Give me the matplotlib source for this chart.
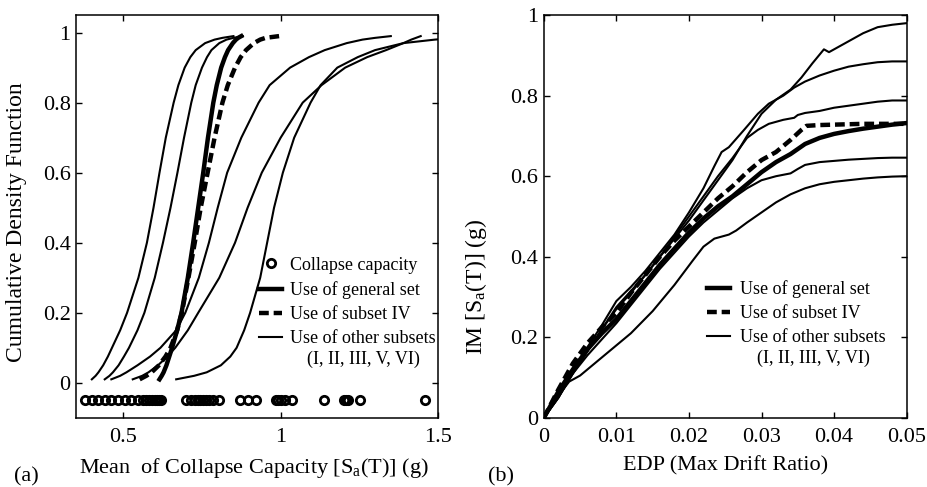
import numpy as np
import matplotlib.pyplot as plt
from matplotlib.ticker import FuncFormatter

plt.rcParams['font.family'] = 'Liberation Serif'
plt.rcParams['mathtext.fontset'] = 'custom'
plt.rcParams['mathtext.rm'] = 'Liberation Serif'
plt.rcParams['mathtext.it'] = 'Liberation Serif:italic'

# (a) collapse capacity CDFs, x values read at fixed CDF levels
cdf_levels = [0.01, 0.02, 0.03, 0.05, 0.075, 0.1, 0.15, 0.2, 0.3, 0.4, 0.5,
              0.6, 0.7, 0.8, 0.85, 0.9, 0.93, 0.95, 0.97, 0.98, 0.985, 0.99]
cdf_general = [0.615, 0.622, 0.628, 0.637, 0.646, 0.655, 0.671, 0.685, 0.705, 0.722, 0.738,
               0.754, 0.769, 0.786, 0.797, 0.811, 0.823, 0.833, 0.848, 0.858, 0.865, 0.875]
cdf_subset4 = [0.552, 0.573, 0.59, 0.613, 0.634, 0.65, 0.671, 0.686, 0.707, 0.727, 0.746,
               0.768, 0.79, 0.815, 0.832, 0.855, 0.873, 0.89, 0.915, 0.935, 0.952, 0.995]
cdf_sub_a = [0.400, 0.412, 0.421, 0.436, 0.451, 0.464, 0.49, 0.512, 0.548, 0.575, 0.596,
             0.615, 0.635, 0.66, 0.675, 0.695, 0.713, 0.73, 0.76, 0.79, 0.815, 0.85]
cdf_sub_b = [0.441, 0.456, 0.467, 0.485, 0.502, 0.518, 0.545, 0.567, 0.60, 0.626, 0.65,
             0.672, 0.693, 0.716, 0.73, 0.75, 0.766, 0.78, 0.805, 0.828, 0.85, 0.88]
cdf_sub_c = [0.462, 0.49, 0.51, 0.545, 0.585, 0.618, 0.668, 0.697, 0.74, 0.772, 0.80,
             0.83, 0.875, 0.93, 0.965, 1.03, 1.09, 1.14, 1.21, 1.26, 1.30, 1.35]
cdf_sub_d = [0.53, 0.56, 0.58, 0.61, 0.64, 0.665, 0.705, 0.738, 0.805, 0.855, 0.895,
             0.94, 1.0, 1.07, 1.13, 1.205, 1.275, 1.335, 1.39, 1.415, 1.43, 1.445]
cdf_sub_e = [0.668, 0.725, 0.765, 0.81, 0.84, 0.86, 0.884, 0.903, 0.935, 0.957, 0.979,
             1.007, 1.043, 1.095, 1.127, 1.18, 1.245, 1.30, 1.39, 1.49, 1.56, 1.62]
cdf_others = [cdf_sub_a, cdf_sub_b, cdf_sub_c, cdf_sub_d, cdf_sub_e]

collapse_caps = [0.378, 0.399, 0.42, 0.441, 0.462, 0.483, 0.504, 0.525, 0.546, 0.562,
                 0.572, 0.582, 0.592, 0.600, 0.608, 0.615, 0.62, 0.699, 0.715, 0.728,
                 0.736, 0.745, 0.752, 0.762, 0.773, 0.786, 0.805, 0.870, 0.897, 0.921,
                 0.986, 0.993, 1.0, 1.013, 1.036, 1.137, 1.200, 1.208, 1.213, 1.253, 1.458]
cap_row = -0.05

# (b) IDA curves, IM vs max drift ratio
ida_general_x = [0, .002, .004, .006, .008, .010, .012, .014, .016, .018, .020, .022, .024,
                 .026, .028, .030, .032, .034, .036, .038, .040, .042, .044, .046, .048, .050]
ida_general_y = [0, .065, .12, .17, .21, .245, .29, .335, .38, .42, .46, .495, .525,
                 .55, .58, .61, .635, .655, .68, .695, .705, .712, .718, .723, .728, .732]
ida_subset4_x = [0, .002, .004, .006, .008, .010, .012, .014, .016, .018, .020, .022, .024,
                 .026, .028, .030, .032, .034, .0355, .0362, .038, .040, .042, .044, .046, .048, .050]
ida_subset4_y = [0, .07, .135, .185, .225, .26, .31, .355, .40, .44, .475, .51, .545,
                 .575, .61, .64, .66, .69, .715, .725, .727, .728, .729, .73, .73, .73, .73]

ida_sub1_x = [0, .002, .004, .006, .008, .010, .012, .014, .016, .018, .020, .022, .024, .026,
              .028, .030, .032, .034, .0355, .037, .0386, .0393, .040, .042, .044, .046, .048, .050]
ida_sub1_y = [0, .05, .11, .165, .22, .27, .31, .355, .40, .445, .49, .54, .59, .64,
              .70, .755, .79, .815, .845, .88, .915, .908, .915, .935, .955, .97, .976, .98]
ida_sub2_x = [0, .002, .004, .006, .008, .010, .012, .014, .016, .018, .020, .022, .0235, .0245,
              .0255, .0275, .0295, .031, .033, .0345, .036, .038, .040, .042, .044, .046, .048, .050]
ida_sub2_y = [0, .05, .115, .175, .23, .29, .325, .365, .41, .455, .51, .57, .625, .66,
              .672, .713, .755, .78, .80, .82, .835, .85, .862, .872, .878, .883, .885, .885]
ida_sub3_x = [0, .002, .004, .006, .008, .010, .012, .014, .016, .018, .020, .022, .024, .026,
              .028, .0295, .031, .033, .0345, .035, .036, .038, .040, .042, .044, .046, .048, .050]
ida_sub3_y = [0, .05, .11, .165, .22, .275, .315, .355, .40, .45, .50, .55, .60, .645,
              .695, .715, .73, .74, .745, .752, .757, .762, .77, .775, .78, .785, .788, .788]
ida_sub4_x = [0, .002, .004, .006, .008, .010, .012, .014, .016, .018, .020, .022, .024, .026,
              .028, .030, .032, .034, .035, .036, .038, .040, .042, .044, .046, .048, .050]
ida_sub4_y = [0, .06, .11, .155, .195, .235, .28, .325, .37, .41, .45, .485, .515, .545,
              .57, .59, .60, .607, .618, .628, .635, .638, .641, .643, .645, .646, .646]
ida_sub5_x = [0, .002, .0035, .005, .007, .009, .012, .015, .018, .0205, .022, .0235, .0255,
              .0265, .028, .030, .032, .034, .036, .038, .040, .042, .044, .046, .048, .050]
ida_sub5_y = [0, .055, .09, .105, .135, .165, .21, .265, .33, .39, .425, .445, .455,
              .465, .485, .51, .535, .555, .57, .58, .586, .59, .594, .597, .599, .60]
ida_others = [(ida_sub1_x, ida_sub1_y), (ida_sub2_x, ida_sub2_y), (ida_sub3_x, ida_sub3_y),
              (ida_sub4_x, ida_sub4_y), (ida_sub5_x, ida_sub5_y)]

THIN = 1.5
THICK = 3.2
DASH = (2.2, 1.1)
fmt = FuncFormatter(lambda v, p: f'{v:g}')

fig = plt.figure(figsize=(9.28, 4.87), dpi=100)
ax1 = fig.add_axes([0.082, 0.142, 0.390, 0.827])
ax2 = fig.add_axes([0.586, 0.142, 0.391, 0.827])

# panel (a)
for xs in cdf_others:
    ax1.plot(xs, cdf_levels, color='k', lw=THIN)
ax1.plot(cdf_general, cdf_levels, color='k', lw=THICK)
ax1.plot(cdf_subset4, cdf_levels, color='k', lw=THICK, ls=(0, DASH))
ax1.plot(collapse_caps, [cap_row] * len(collapse_caps), 'o', ms=6, mfc='none',
         mec='k', mew=2, ls='none')

ax1.set_xlim(0.35, 1.5)
ax1.set_ylim(-0.1, 1.05)
ax1.set_xticks([0.5, 1, 1.5])
ax1.set_yticks([0, 0.2, 0.4, 0.6, 0.8, 1])
ax1.set_xlabel(r'Mean  of Collapse Capacity [S$_{\mathrm{a}}$(T)] (g)', fontsize=16)
ax1.set_ylabel('Cumulative Density Function', fontsize=17)
ax1.xaxis.set_label_coords(0.492, -0.095)
ax1.yaxis.set_label_coords(-0.135, 0.487)

h_cap, = ax1.plot([], [], 'o', ms=6, mfc='none', mec='k', mew=2, ls='none')
h_gen, = ax1.plot([], [], color='k', lw=THICK)
h_iv, = ax1.plot([], [], color='k', lw=THICK, ls=(0, DASH))
h_oth, = ax1.plot([], [], color='k', lw=THIN)
leg1 = ax1.legend([h_cap, h_gen, h_iv, h_oth],
                  ['Collapse capacity', 'Use of general set', 'Use of subset IV', 'Use of other subsets'],
                  loc='upper left', bbox_to_anchor=(0.505, 0.40), frameon=False, fontsize=13,
                  borderpad=0, borderaxespad=0, handlelength=1.3, handletextpad=0.45,
                  labelspacing=0.4)

# panel (b)
for xs, ys in ida_others:
    ax2.plot(xs, ys, color='k', lw=THIN)
ax2.plot(ida_general_x, ida_general_y, color='k', lw=THICK)
ax2.plot(ida_subset4_x, ida_subset4_y, color='k', lw=THICK, ls=(0, DASH))

ax2.set_xlim(0, 0.05)
ax2.set_ylim(0, 1)
ax2.set_xticks([0, 0.01, 0.02, 0.03, 0.04, 0.05])
ax2.set_yticks([0, 0.2, 0.4, 0.6, 0.8, 1])
ax2.set_xlabel('EDP (Max Drift Ratio)', fontsize=16)
ax2.set_ylabel(r'IM [S$_{\mathrm{a}}$(T)] (g)', fontsize=17)
ax2.xaxis.set_label_coords(0.502, -0.095)
ax2.yaxis.set_label_coords(-0.152, 0.325)

leg2 = ax2.legend([h_gen, h_iv, h_oth],
                  ['Use of general set', 'Use of subset IV', 'Use of other subsets'],
                  loc='upper left', bbox_to_anchor=(0.449, 0.342), frameon=False, fontsize=13,
                  borderpad=0, borderaxespad=0, handlelength=1.3, handletextpad=0.55,
                  labelspacing=0.4)

for ax in (ax1, ax2):
    ax.tick_params(direction='in', top=True, right=True, length=4, width=1,
                   labelsize=16, colors='k')
    ax.tick_params(axis='x', pad=7)
    ax.tick_params(axis='y', pad=4)
    ax.xaxis.set_major_formatter(fmt)
    ax.yaxis.set_major_formatter(fmt)
    for s in ax.spines.values():
        s.set_linewidth(1.1)

fig.text(0.028, 0.02, '(a)', fontsize=16, ha='center', va='center')
fig.text(0.540, 0.02, '(b)', fontsize=16, ha='center', va='center')

# second line of the "other subsets" legend entry, centred under the first
fig.canvas.draw()
renderer = fig.canvas.get_renderer()
for leg in (leg1, leg2):
    t = leg.get_texts()[-1]
    bb = t.get_window_extent(renderer).transformed(fig.transFigure.inverted())
    fig.text((bb.x0 + bb.x1) / 2, bb.y0 - 0.007, '(I, II, III, V, VI)',
             ha='center', va='top', fontsize=13)

fig.savefig('out.png', dpi=100)
